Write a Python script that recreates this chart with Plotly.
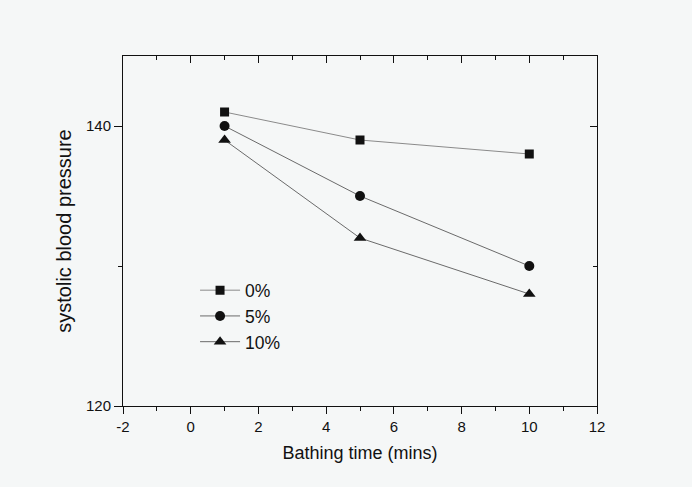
import plotly.graph_objects as go

x_vals = [1, 5, 10]
series_names = ["0%", "5%", "10%"]
y_0 = [141, 139, 138]
y_5 = [140, 135, 130]
y_10 = [139, 132, 128]

x_ticks = [-2, 0, 2, 4, 6, 8, 10, 12]
x_ticktext = ["-2", "0", "2", "4", "6", "8", "10", "12"]
y_ticks = [120, 140]
y_ticktext = ["120", "140"]

symbols = ["square", "circle", "triangle-up"]
sizes = [9, 10, 11]
line_cols = ["#8a8a8a", "#6a6a6a", "#6a6a6a"]

fig = go.Figure()
for name, ys, sym, sz, lc in zip(series_names, [y_0, y_5, y_10], symbols, sizes, line_cols):
    fig.add_trace(go.Scatter(
        x=x_vals, y=ys, name=name, mode="lines+markers",
        line=dict(color=lc, width=1),
        marker=dict(symbol=sym, size=sz, color="#111111"),
    ))

# invisible trace to anchor mirrored axes
fig.add_trace(go.Scatter(x=[None], y=[None], xaxis="x2", yaxis="y2",
                         showlegend=False, hoverinfo="skip"))

font = "Liberation Sans, Arial, sans-serif"
fig.update_layout(
    width=692, height=487,
    margin=dict(l=123, r=95, t=56, b=81),
    paper_bgcolor="#f5f7f7", plot_bgcolor="#f5f7f7",
    font=dict(family=font, color="#111111", size=15),
    showlegend=True,
    legend=dict(x=0.152, y=0.382, xanchor="left", yanchor="top",
                bgcolor="rgba(0,0,0,0)", font=dict(size=17.5, family=font),
                itemwidth=40, tracegroupgap=0),
    xaxis=dict(range=[-2, 12], tickmode="array", tickvals=x_ticks, ticktext=x_ticktext,
               ticks="outside", ticklen=7, tickwidth=1, tickcolor="#111",
               minor=dict(ticks="outside", ticklen=4, dtick=1, tick0=-2, tickcolor="#111"),
               showline=True, linecolor="#111", linewidth=1, mirror=True,
               showgrid=False, zeroline=False,
               title=dict(text="Bathing time (mins)", font=dict(size=18), standoff=12),
               tickfont=dict(size=15)),
    yaxis=dict(range=[120, 145], tickmode="array", tickvals=y_ticks, ticktext=y_ticktext,
               ticks="outside", ticklen=8, tickwidth=1, tickcolor="#111",
               minor=dict(ticks="outside", ticklen=4, dtick=10, tick0=120, tickcolor="#111"),
               showline=True, linecolor="#111", linewidth=1, mirror=True,
               showgrid=False, zeroline=False,
               title=dict(text="systolic blood pressure", font=dict(size=20), standoff=8),
               tickfont=dict(size=15)),
    xaxis2=dict(range=[-2, 12], overlaying="x", side="top", anchor="y",
                tickmode="linear", tick0=-2, dtick=2, ticks="inside", ticklen=7,
                tickcolor="#111", showticklabels=False, showgrid=False, zeroline=False,
                minor=dict(ticks="inside", ticklen=4, dtick=1, tickcolor="#111")),
    yaxis2=dict(range=[120, 145], overlaying="y", side="right", anchor="x",
                tickmode="linear", tick0=120, dtick=20, ticks="inside", ticklen=7,
                tickcolor="#111", showticklabels=False, showgrid=False, zeroline=False,
                minor=dict(ticks="inside", ticklen=4, dtick=10, tickcolor="#111")),
)

fig.write_html("out.html")
